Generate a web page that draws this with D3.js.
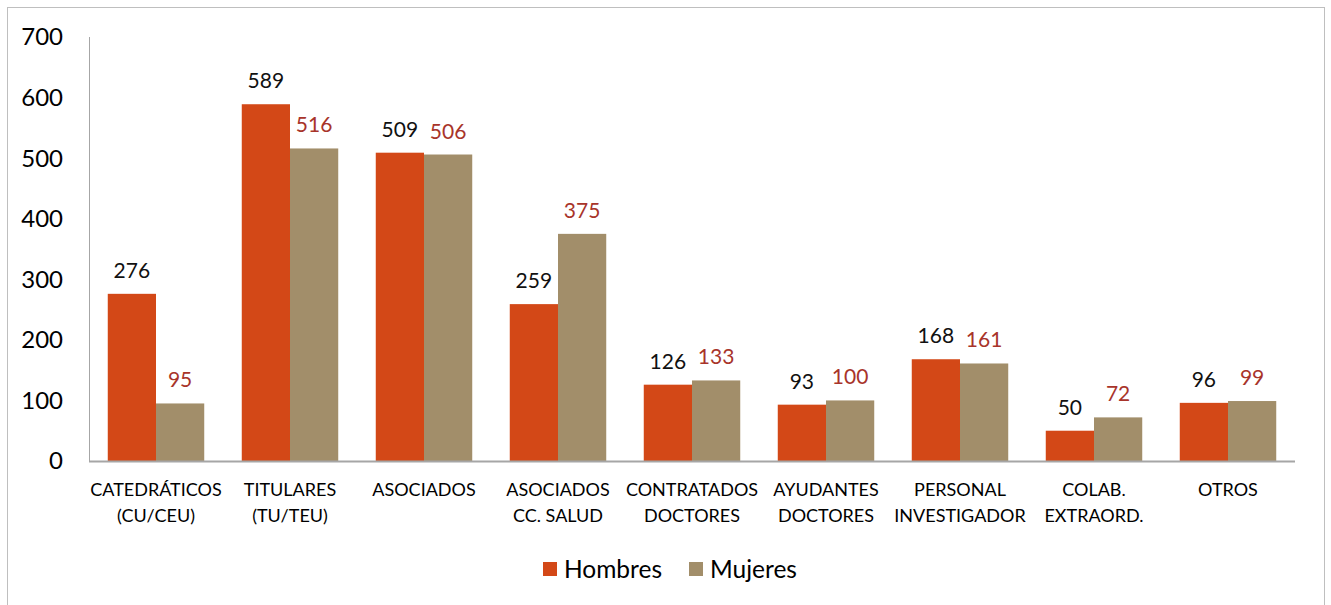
<!DOCTYPE html>
<html lang="es">
<head>
<meta charset="UTF-8">
<title>PDI por categoría y sexo</title>
<style>
  body { margin: 0; background: #fff; }
  svg { display: block; font-family: Lato, "Open Sans", sans-serif; }
</style>
</head>
<body>
<div id="chart"></div>
<script src="https://cdn.jsdelivr.net/npm/d3@7"></script>
<script>
// categorias (lineas de cada etiqueta)
var categories = [
  ["CATEDRÁTICOS", "(CU/CEU)"],
  ["TITULARES", "(TU/TEU)"],
  ["ASOCIADOS"],
  ["ASOCIADOS", "CC. SALUD"],
  ["CONTRATADOS", "DOCTORES"],
  ["AYUDANTES", "DOCTORES"],
  ["PERSONAL", "INVESTIGADOR"],
  ["COLAB.", "EXTRAORD."],
  ["OTROS"]
];
var hombres = [276, 589, 509, 259, 126, 93, 168, 50, 96];
var mujeres = [95, 516, 506, 375, 133, 100, 161, 72, 99];
var seriesNames = ["Hombres", "Mujeres"];
var yTicks = [0, 100, 200, 300, 400, 500, 600, 700];

var W = 1331, H = 605;
var plotL = 89, plotR = 1295, plotT = 37, plotB = 461;
var colors = ["#D34817", "#A28E6A"];
var labelColors = ["#111", "#A8342A"];

var svg = d3.select("#chart").append("svg")
  .attr("width", W).attr("height", H);

// marco exterior
svg.append("rect")
  .attr("x", 7.5).attr("y", 7.5)
  .attr("width", 1317).attr("height", 620)
  .attr("fill", "none").attr("stroke", "#bfbfbf");

var x = d3.scaleBand().domain(d3.range(categories.length))
  .range([plotL, plotR]).paddingInner(0.28).paddingOuter(0.14);
var y = d3.scaleLinear().domain([0, 700]).range([plotB, plotT]);
var xs = d3.scaleBand().domain([0, 1]).range([0, x.bandwidth()]);

// eje Y
svg.append("line")
  .attr("x1", plotL + 0.5).attr("x2", plotL + 0.5).attr("y1", plotT).attr("y2", plotB)
  .attr("stroke", "#a6a6a6");
svg.append("g").selectAll("text").data(yTicks).enter().append("text")
  .attr("x", 63).attr("y", function(d) { return y(d); })
  .attr("dy", "0.35em")
  .attr("text-anchor", "end")
  .attr("font-size", 24)
  .attr("fill", "#000")
  .text(function(d) { return d; });

var data = categories.map(function(c, i) { return [hombres[i], mujeres[i]]; });

var groups = svg.append("g").selectAll("g").data(data).enter().append("g")
  .attr("transform", function(d, i) { return "translate(" + x(i) + ",0)"; });

groups.selectAll("rect").data(function(d) { return d; }).enter().append("rect")
  .attr("x", function(d, j) { return xs(j); })
  .attr("y", function(d) { return y(d); })
  .attr("width", xs.bandwidth())
  .attr("height", function(d) { return plotB - y(d); })
  .attr("fill", function(d, j) { return colors[j]; });

groups.selectAll("text").data(function(d) { return d; }).enter().append("text")
  .attr("x", function(d, j) { return xs(j) + xs.bandwidth() / 2; })
  .attr("y", function(d) { return y(d) - 16; })
  .attr("text-anchor", "middle")
  .attr("font-size", 21)
  .attr("fill", function(d, j) { return labelColors[j]; })
  .text(function(d) { return d; });

// eje X
svg.append("line")
  .attr("x1", plotL).attr("x2", plotR).attr("y1", plotB + 0.5).attr("y2", plotB + 0.5)
  .attr("stroke", "#a6a6a6").attr("stroke-width", 2);

var catLabels = svg.append("g").selectAll("text").data(categories).enter().append("text")
  .attr("x", function(d, i) { return x(i) + x.bandwidth() / 2; })
  .attr("y", 496)
  .attr("text-anchor", "middle")
  .attr("font-size", 18)
  .attr("fill", "#000");
catLabels.selectAll("tspan").data(function(d) { return d; }).enter().append("tspan")
  .attr("x", function() { return this.parentNode.getAttribute("x"); })
  .attr("dy", function(d, k) { return k === 0 ? 0 : 26; })
  .text(function(d) { return d; });

// leyenda
var legendX = [543, 689];
var legend = svg.append("g").selectAll("g").data(seriesNames).enter().append("g")
  .attr("transform", function(d, i) { return "translate(" + legendX[i] + ",562)"; });
legend.append("rect").attr("width", 14).attr("height", 14)
  .attr("fill", function(d, i) { return colors[i]; });
legend.append("text").attr("x", 21).attr("y", 7).attr("dy", "0.36em")
  .attr("font-size", 24.5).attr("fill", "#000")
  .text(function(d) { return d; });
</script>
</body>
</html>
